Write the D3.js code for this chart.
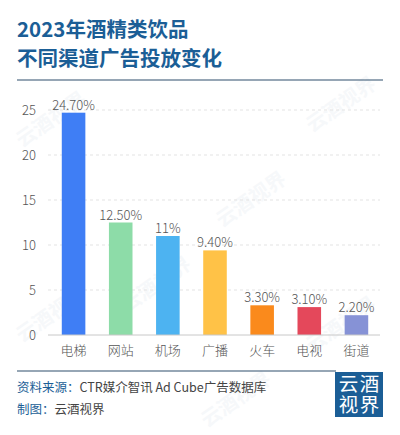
<!DOCTYPE html>
<html><head><meta charset="utf-8">
<script src="https://cdn.jsdelivr.net/npm/d3@7"></script>
<style>html,body{margin:0;padding:0;background:#fff;}svg{display:block;font-family:"Noto Sans CJK SC","Noto Sans",sans-serif;}</style>
</head><body><svg id="c" width="400" height="435"></svg>
<script>
const categories = ["电梯","网站","机场","广播","火车","电视","街道"];
const values = [24.7,12.5,11,9.4,3.3,3.1,2.2];
const valueLabels = ["24.70%","12.50%","11%","9.40%","3.30%","3.10%","2.20%"];
const colors = ["#3f7ef5","#8ddca8","#4db3f1","#ffc247","#fa8a1c","#e4485b","#8692d6"];
const yTicks = [0,5,10,15,20,25];

const svg = d3.select("#c");
const blue = "#1b5e96";

// watermarks (faint)
const wm = [[55,125],[345,110],[160,290],[255,205],[345,330],[55,320],[240,405]];
wm.forEach(([x,y])=>{
  svg.append("text").attr("transform",`translate(${x},${y}) rotate(-35)`)
    .attr("text-anchor","middle").attr("font-size",20).attr("font-weight",700)
    .attr("fill","#5b7fa6").attr("opacity",0.05).text("云酒视界");
});

// title
svg.append("text").attr("x",17).attr("y",37).attr("font-size",20.5).attr("font-weight",700).attr("fill",blue).text("2023年酒精类饮品");
svg.append("text").attr("x",17).attr("y",66).attr("font-size",20.5).attr("font-weight",700).attr("fill",blue).text("不同渠道广告投放变化");
svg.append("line").attr("x1",17).attr("x2",383).attr("y1",80).attr("y2",80).attr("stroke","#2f4f6d").attr("stroke-width",1.2);

const x = d3.scaleBand().domain(categories).range([50,380]).paddingInner(0.5).paddingOuter(0.25);
const y = d3.scaleLinear().domain([0,25]).range([335,110]);

// grid
svg.append("g").selectAll("line").data(yTicks.filter(t=>t>0)).join("line")
  .attr("x1",48).attr("x2",380).attr("y1",d=>y(d)).attr("y2",d=>y(d))
  .attr("stroke","#e3e3e3").attr("stroke-dasharray","3,3");

// y axis labels
const ya = svg.append("g").attr("transform","translate(36,0)")
  .call(d3.axisLeft(y).tickValues(yTicks).tickSize(0).tickPadding(0));
ya.select(".domain").remove();
ya.selectAll("text").attr("font-size",13).attr("fill","#555").attr("font-family","'Noto Sans CJK SC',sans-serif").attr("font-weight",300);

// bars
svg.append("g").selectAll("rect").data(values).join("rect")
  .attr("x",(d,i)=>x(categories[i])).attr("width",x.bandwidth())
  .attr("y",d=>y(d)).attr("height",d=>y(0)-y(d)).attr("fill",(d,i)=>colors[i]);

// value labels
svg.append("g").selectAll("text").data(values).join("text")
  .attr("x",(d,i)=>x(categories[i])+x.bandwidth()/2).attr("y",d=>y(d)-3)
  .attr("text-anchor","middle").attr("font-size",13).attr("font-weight",300).attr("fill","#555")
  .text((d,i)=>valueLabels[i]);

// x axis
const xa = svg.append("g").attr("transform","translate(0,335)")
  .call(d3.axisBottom(x).tickSize(0).tickPadding(8));
xa.select(".domain").attr("d","M48,0H380").attr("stroke","#c8c8c8");
xa.selectAll("text").attr("font-size",13).attr("fill","#555").attr("font-family","'Noto Sans CJK SC',sans-serif").attr("font-weight",300).attr("dy","0.9em");

// footer
svg.append("line").attr("x1",17).attr("x2",336).attr("y1",371).attr("y2",371).attr("stroke","#2f4f6d").attr("stroke-width",1.2);
const f1 = svg.append("text").attr("x",17).attr("y",392).attr("font-size",12.5);
f1.append("tspan").attr("fill",blue).text("资料来源：");
f1.append("tspan").attr("fill","#444").text("CTR媒介智讯 Ad Cube广告数据库");
const f2 = svg.append("text").attr("x",17).attr("y",414).attr("font-size",12.5);
f2.append("tspan").attr("fill",blue).text("制图：");
f2.append("tspan").attr("fill","#444").text("云酒视界");

// logo (two vertical columns: 云视 | 酒界)
svg.append("rect").attr("x",335).attr("y",372).attr("width",48).attr("height",45).attr("fill",blue);
[["云视",348.5],["酒界",369.5]].forEach(([t,cx])=>{
  svg.append("text").attr("x",cx).attr("y",394.5).attr("text-anchor","middle")
    .style("writing-mode","vertical-rl").attr("font-size",19.5).attr("fill","#fff")
    .attr("letter-spacing",1).text(t);
});
</script></body></html>
